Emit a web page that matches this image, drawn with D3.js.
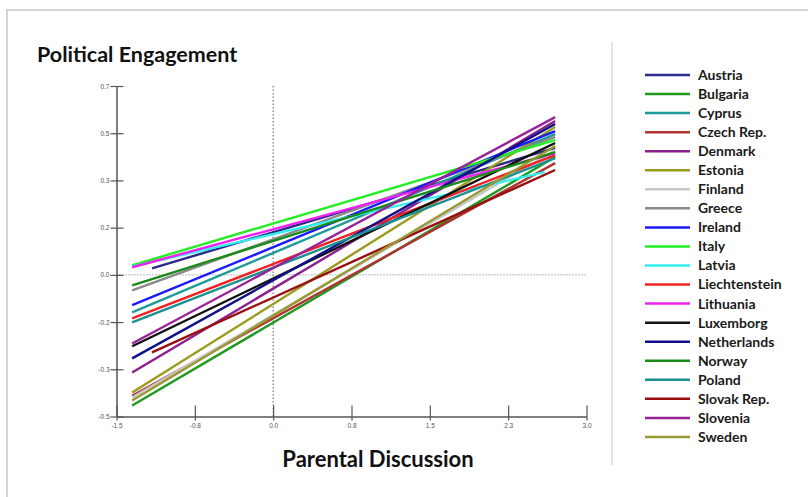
<!DOCTYPE html>
<html><head><meta charset="utf-8">
<script src="https://cdn.jsdelivr.net/npm/d3@7"></script>
<style>body{margin:0;background:#fff}svg{display:block}</style>
</head><body>
<script>
const countries = ["Austria","Bulgaria","Cyprus","Czech Rep.","Denmark","Estonia","Finland","Greece","Ireland","Italy","Latvia","Liechtenstein","Lithuania","Luxemborg","Netherlands","Norway","Poland","Slovak Rep.","Slovenia","Sweden"];
const palette = ["#2a2a8a","#1f9a1f","#1f9a9a","#b03333","#8e1f8e","#9a9a1f","#c8c8c8","#8a8a8a","#1a1aff","#22ee22","#33eeee","#ee2222","#ee22ee","#111111","#10108a","#1a8a1a","#1a9090","#990f0f","#992299","#999933"];
// x range of each fitted line
const xStart = [-1.16,-1.35,-1.35,-1.35,-1.35,-1.35,-1.35,-1.35,-1.35,-1.35,-1.35,-1.35,-1.35,-1.35,-1.35,-1.35,-1.35,-1.16,-1.35,-1.35];
const xEnd   = [2.70,2.70,2.70,2.70,2.70,2.70,2.70,2.70,2.70,2.70,2.60,2.70,2.70,2.70,2.70,2.70,2.70,2.70,2.70,2.70];
// predicted political engagement at start / end
const yStart = [0.038,-0.46,-0.122,-0.425,-0.34,-0.413,-0.431,-0.042,-0.096,0.049,0.045,-0.144,0.042,-0.245,-0.289,-0.024,-0.158,-0.267,-0.235,-0.442];
const yEnd   = [0.475,0.442,0.525,0.42,0.573,0.551,0.467,0.515,0.536,0.504,0.387,0.449,0.456,0.493,0.562,0.46,0.438,0.395,0.587,0.482];
const xTickLabels = ["-1.5","-0.8","0.0","0.8","1.5","2.3","3.0"];
const yTickLabels = ["-0.5","-0.3","-0.2","0.0","0.2","0.3","0.5","0.7"];
const title = "Political Engagement";
const xTitle = "Parental Discussion";

const W = 808, H = 497;
const svg = d3.select("body").append("svg").attr("width", W).attr("height", H);

// frame
svg.append("path").attr("d", `M7,${H} L7,10 L${W},10`).attr("fill","none").attr("stroke","#d4d4d4").attr("stroke-width",2);
svg.append("line").attr("x1",612).attr("x2",612).attr("y1",42).attr("y2",465).attr("stroke","#c8c8c8").attr("stroke-width",1);

const x = d3.scaleLinear().domain([-1.5, 3.0]).range([116.5, 586.5]);
const y = d3.scaleLinear().domain([-0.5, 0.7]).range([416.5, 86]);

const xTicks = d3.range(xTickLabels.length).map(i => -1.5 + i * 4.5 / (xTickLabels.length - 1));
const yTicks = d3.range(yTickLabels.length).map(i => -0.5 + i * 1.2 / (yTickLabels.length - 1));

// reference dotted lines
svg.append("line").attr("x1", x(-1.5)).attr("x2", x(3.0)).attr("y1", y(yTicks[3])).attr("y2", y(yTicks[3]))
  .attr("stroke","#777").attr("stroke-width",1).attr("stroke-dasharray","1,2");
svg.append("line").attr("x1", x(0)).attr("x2", x(0)).attr("y1", y(0.7)).attr("y2", y(-0.5))
  .attr("stroke","#555").attr("stroke-width",1).attr("stroke-dasharray","1.5,2");

// axes
const xAxis = d3.axisBottom(x).tickValues(xTicks).tickFormat((d,i) => xTickLabels[i]).tickSize(0).tickPadding(7);
const gx = svg.append("g").attr("transform", `translate(0,${y(-0.5)})`).call(xAxis);
gx.select(".domain").attr("stroke","#555").attr("stroke-width",1.5);
gx.selectAll(".tick").append("line").attr("y1",-11).attr("y2",4).attr("stroke","#555").attr("stroke-width",1.2);
gx.selectAll("text").attr("font-size","6.5px").attr("fill","#555").attr("font-family","Liberation Sans");

const yAxis = d3.axisLeft(y).tickValues(yTicks).tickFormat((d,i) => yTickLabels[i]).tickSize(0).tickPadding(7);
const gy = svg.append("g").attr("transform", `translate(${x(-1.5)},0)`).call(yAxis);
gy.select(".domain").attr("stroke","#555").attr("stroke-width",1.5);
gy.selectAll(".tick").append("line").attr("x1",-6).attr("x2",7).attr("stroke","#555").attr("stroke-width",1.2);
gy.selectAll("text").attr("font-size","6.5px").attr("fill","#555").attr("font-family","Liberation Sans");

// lines
const lineGen = d3.line().x(d => x(d[0])).y(d => y(d[1]));
const data = countries.map((c,i) => ({c, col: palette[i], pts: [[xStart[i], yStart[i]], [xEnd[i], yEnd[i]]]}));
svg.append("g").selectAll("path").data(data).join("path")
  .attr("d", d => lineGen(d.pts)).attr("fill","none")
  .attr("stroke", d => d.col).attr("stroke-width", 2.4).attr("stroke-linecap","butt");

// titles
svg.append("text").attr("x",37).attr("y",62).text(title)
  .attr("font-family","Lato").attr("font-weight","bold").attr("font-size","21.5px").attr("fill","#111");
svg.append("text").attr("x",378).attr("y",467).attr("text-anchor","middle").text(xTitle)
  .attr("font-family","Lato").attr("font-weight","bold").attr("font-size","22px").attr("fill","#111");

// legend
const lg = svg.append("g");
const rows = lg.selectAll("g").data(data).join("g").attr("transform", (d,i) => `translate(0,${75 + i*19.05})`);
rows.append("line").attr("x1",645).attr("x2",690).attr("stroke", d => d.col).attr("stroke-width",2.5);
rows.append("text").attr("x",698).attr("y",0).attr("dy","0.35em").text(d => d.c)
  .attr("font-family","Lato").attr("font-weight","bold").attr("font-size","14px").attr("fill","#1a1a1a");
</script>
</body></html>
